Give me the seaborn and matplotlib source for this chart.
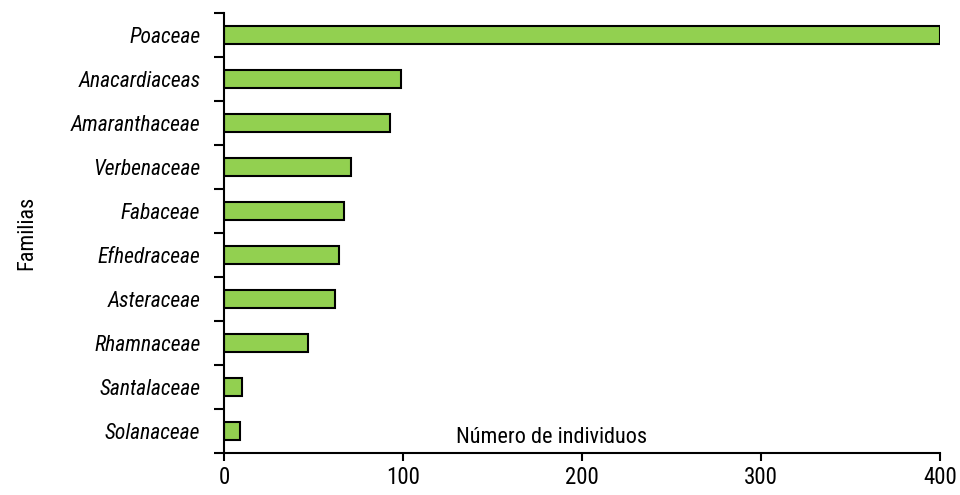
import seaborn as sns
import matplotlib.pyplot as plt
import numpy as np
import pandas as pd

familias = ['Poaceae', 'Anacardiaceas', 'Amaranthaceae', 'Verbenaceae', 'Fabaceae',
            'Efhedraceae', 'Asteraceae', 'Rhamnaceae', 'Santalaceae', 'Solanaceae']
individuos = [400, 99, 93, 71, 67, 64, 62, 47, 10, 9]
xticks = [0, 100, 200, 300, 400]

df = pd.DataFrame({'Familia': familias, 'Individuos': individuos})

sns.set_style('white')
plt.rcParams['font.family'] = ['Roboto Condensed', 'Liberation Sans', 'DejaVu Sans']
plt.rcParams['text.color'] = 'black'
plt.rcParams['xtick.color'] = 'black'
plt.rcParams['ytick.color'] = 'black'
plt.rcParams['axes.labelcolor'] = 'black'

fig = plt.figure(figsize=(9.6, 4.95), dpi=100)
ax = fig.add_axes([0.2333, 0.0848, 0.7458, 0.889])
sns.barplot(data=df, x='Individuos', y='Familia', orient='h', color='#92D050',
            edgecolor='black', linewidth=1.5, width=0.4, saturation=1, ax=ax)

ax.set_xlim(0, 400)
ax.set_ylim(len(familias) - 0.5, -0.5)
ax.set_xticks(xticks)
ax.set_yticks(np.arange(len(familias) + 1) - 0.5, minor=True)
ax.tick_params(axis='y', which='major', length=0, pad=17, labelsize=15.5)
ax.tick_params(axis='y', which='minor', length=7, width=1.5, color='black', direction='out', left=True)
ax.tick_params(axis='x', which='major', length=6, width=1.5, color='black', direction='out',
               bottom=True, labelsize=16.5, pad=3)
for lab in ax.get_yticklabels():
    lab.set_fontstyle('italic')

for side in ['top', 'right']:
    ax.spines[side].set_visible(False)
for side in ['left', 'bottom']:
    ax.spines[side].set_color('black')
    ax.spines[side].set_linewidth(1.5)

ax.set_xlabel('')
ax.set_ylabel('Familias', fontsize=16, labelpad=24)
ax.text(0.457, 0.036, 'Número de individuos', transform=ax.transAxes,
        ha='center', va='center', fontsize=16)

plt.savefig('out.png', dpi=100)
